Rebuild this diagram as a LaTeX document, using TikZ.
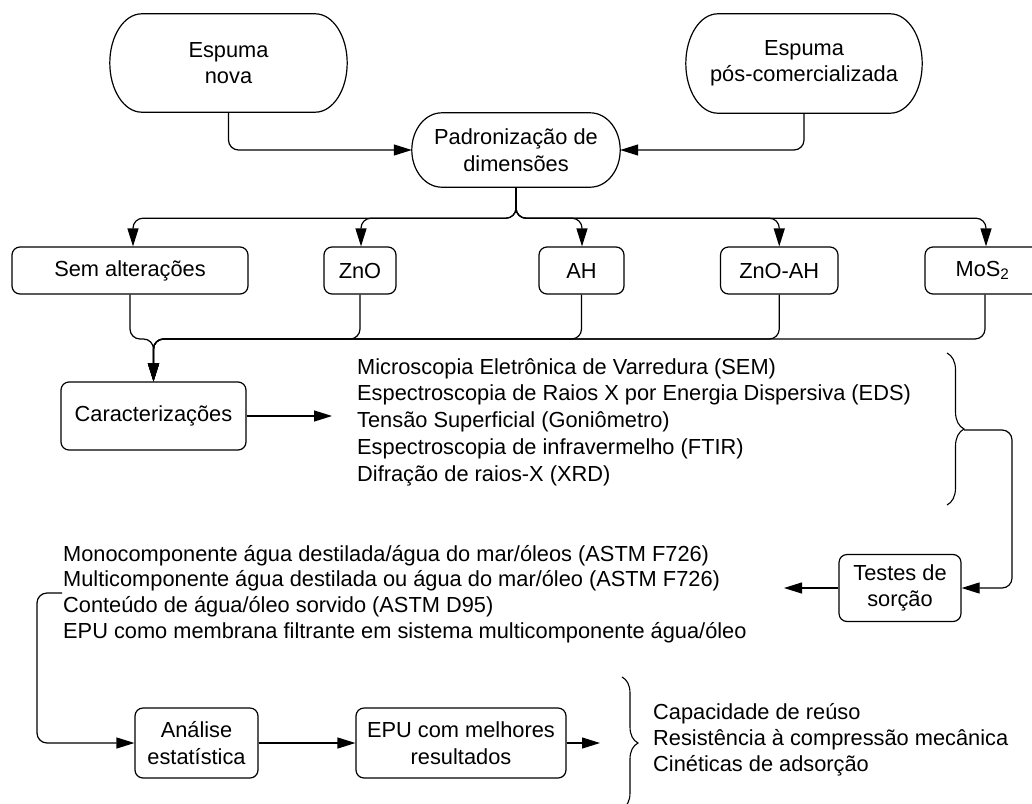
\documentclass[tikz,border=0pt]{standalone}
\usepackage{fontspec}
\setmainfont{Liberation Sans}
\usetikzlibrary{arrows.meta,calc,decorations.pathreplacing}
\newcommand\pillshape[2]{%
  \draw[lw] let \p1=(#1.north west), \p2=(#1.south east), \n1={(\y1-\y2)/2} in
    (\x1+#2pt,\y1) -- (\x2-#2pt,\y1)
    arc[start angle=90, end angle=-90, x radius=#2pt, y radius=\n1]
    -- (\x1+#2pt,\y2)
    arc[start angle=270, end angle=90, x radius=#2pt, y radius=\n1] -- cycle;}
\begin{document}
\begin{tikzpicture}[x=1pt,y=1pt,
  lw/.style={line width=1.2pt},
  txt/.style={font=\fontsize{21.8}{26.5}\selectfont, align=center, inner sep=0pt},
  box/.style={txt, draw, lw, rounded corners=8pt},
  pill/.style={txt},
  arr/.style={lw, -{Triangle[length=18pt,width=11pt]}, rounded corners=10pt},
  lst/.style={font=\fontsize{21.8}{26.8}\selectfont, align=left, inner sep=0pt, anchor=west},
  brc/.style={line width=1.1pt, decorate, decoration={brace, amplitude=17pt}}
]
\useasboundingbox (0,0) rectangle (1032,-803);

% top pills
\node[pill, minimum width=237pt, minimum height=98pt] (nova) at (228.5,-63) {Espuma\\nova};
\node[pill, minimum width=236pt, minimum height=99pt] (pos) at (804,-63.5) {Espuma\\pós-comercializada};
\node[pill, minimum width=208pt, minimum height=74pt] (pad) at (516,-150) {Padronização de\\dimensões};
\pillshape{nova}{32}
\pillshape{pos}{32}
\pillshape{pad}{30}

\draw[arr] (nova.south) |- (pad.west);
\draw[arr] (pos.south) |- (pad.east);

% treatment boxes
\node[box, minimum width=236pt, minimum height=47pt] (sem) at (130,-270.5) {Sem alterações};
\node[box, minimum width=72pt, minimum height=47pt] (zno) at (360,-270.5) {ZnO};
\node[box, minimum width=85pt, minimum height=47pt] (ah) at (581.5,-270.5) {AH};
\node[box, minimum width=117.5pt, minimum height=47pt] (znoah) at (779.25,-270.5) {ZnO-AH};
\node[box, minimum width=115pt, minimum height=47pt] (mos) at (982.5,-270.5) {MoS\textsubscript{2}};

\foreach \t/\dx in {sem/3,zno/1,ah/0.5,znoah/0,mos/3.5}
  \draw[arr] (pad.south) -- ++(0,-31) -| ([xshift=\dx pt]\t.north);

% characterizations
\node[box, minimum width=185pt, minimum height=68pt] (car) at (153.5,-416) {Caracterizações};
\coordinate (merge) at (153.5,-339);
\foreach \t/\dx in {sem/0,zno/0,ah/0,znoah/0,mos/2.5}
  \draw[arr] ([xshift=\dx pt]\t.south) |- (merge) -- (car.north);

\coordinate (carend) at (332,-416);
\draw[arr] (car.east) -- (carend);

\node[lst] (charlist) at (357,-422) {Microscopia Eletrônica de Varredura (SEM)\\
Espectroscopia de Raios X por Energia Dispersiva (EDS)\\
Tensão Superficial (Goniômetro)\\
Espectroscopia de infravermelho (FTIR)\\
Difração de raios-X (XRD)};

\draw[brc] (947,-353) -- (947,-505);
\coordinate (btip) at (964,-430);

% sorption tests
\node[box, minimum width=122pt, minimum height=67pt] (testes) at (900,-588) {Testes de\\sorção};
\draw[arr] (btip) -- (1012,-430) |- (testes.east);
\coordinate (testend) at (784,-588);
\draw[arr] (testes.west) -- (testend);

\node[lst, font=\fontsize{21.8}{25.7}\selectfont] (sorlist) at (63,-594) {Monocomponente água destilada/água do mar/óleos (ASTM F726)\\
Multicomponente água destilada ou água do mar/óleo (ASTM F726)\\
Conteúdo de água/óleo sorvido (ASTM D95)\\
EPU como membrana filtrante em sistema multicomponente água/óleo};

% bottom row
\node[box, minimum width=123pt, minimum height=70pt] (ana) at (196.5,-743) {Análise\\estatística};
\node[box, minimum width=210pt, minimum height=70pt] (epu) at (461,-743) {EPU com melhores\\resultados};

\coordinate (loopstart) at (62,-593);
\draw[arr] (loopstart) -- ++(-25,0) |- (ana.west);
\draw[arr] (ana.east) -- (epu.west);
\coordinate (epuend) at (600,-743);
\draw[arr] (epu.east) -- (epuend);

\draw[brc, decoration={brace, amplitude=16pt}] (622,-677) -- (622,-809);

\node[lst, font=\fontsize{21.8}{26}\selectfont] (final) at (653,-740) {Capacidade de reúso\\
Resistência à compressão mecânica\\
Cinéticas de adsorção};
\end{tikzpicture}
\end{document}
